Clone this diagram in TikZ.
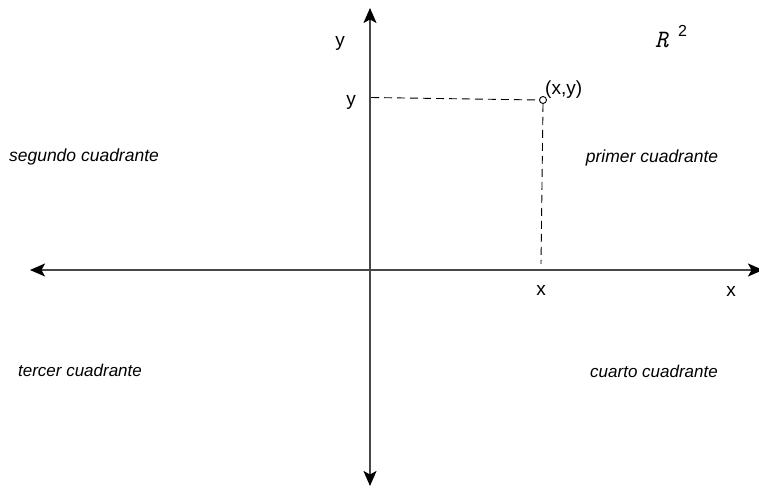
\documentclass[tikz,border=0pt]{standalone}
\usepackage{fontspec}
\setmainfont{Liberation Sans}
\usetikzlibrary{arrows.meta}
\begin{document}
\begin{tikzpicture}[x=1bp,y=-1bp,
  axis/.style={line width=1.4bp, draw=black!72, {Stealth[length=15bp,width=13bp,inset=3.5bp,color=black]}-{Stealth[length=15bp,width=13bp,inset=3.5bp,color=black]}},
  guide/.style={line width=0.9bp, draw=black, dash pattern=on 8bp off 5bp},
  lbl/.style={inner sep=0pt, font=\fontsize{19bp}{22bp}\selectfont},
  quad/.style={inner sep=0pt, font=\fontsize{17.5bp}{20bp}\selectfont\itshape},
  pt/.style={circle, draw=black, fill=white, line width=0.9bp, minimum size=7bp, inner sep=0pt}]
\useasboundingbox (0,0) rectangle (759,489);
\clip (0,0) rectangle (759,489);
% axes
\coordinate (xl) at (30,270);
\coordinate (xr) at (763,270);
\coordinate (yt) at (370,8);
\coordinate (yb) at (370,486);
\draw[axis] (xl) -- (xr);
\draw[axis] (yb) -- (yt);
% point and guides
\node[pt] (p) at (543,100) {};
\coordinate (ystart) at (371,97.5);
\coordinate (xend) at (541,264);
\draw[guide] (ystart) -- (p.west);
\draw[guide] (p.south) -- (xend);
% labels
\node[lbl, anchor=base] (ylab) at (340,47) {y};
\node[lbl, anchor=base] (yval) at (351,106) {y};
\node[lbl, anchor=base west] (plab) at (545,95) {(x,y)};
\node[lbl, anchor=base] (xval) at (541,296) {x};
\node[lbl, anchor=base] (xlab) at (731,297) {x};
\node[inner sep=0pt, anchor=base west, font=\ttfamily\itshape\fontsize{25bp}{27bp}\selectfont] (R) at (655,48) {R};
\node[inner sep=0pt, anchor=base west, font=\fontsize{16bp}{18bp}\selectfont] (two) at (678,37) {2};
% quadrant names
\node[quad] (q2) at (84,157) {segundo cuadrante};
\node[quad] (q1) at (652,158) {primer cuadrante};
\node[quad, font=\fontsize{17bp}{20bp}\selectfont\itshape] (q3) at (80,370) {tercer cuadrante};
\node[quad, font=\fontsize{17bp}{20bp}\selectfont\itshape] (q4) at (654,371) {cuarto cuadrante};
\end{tikzpicture}
\end{document}
